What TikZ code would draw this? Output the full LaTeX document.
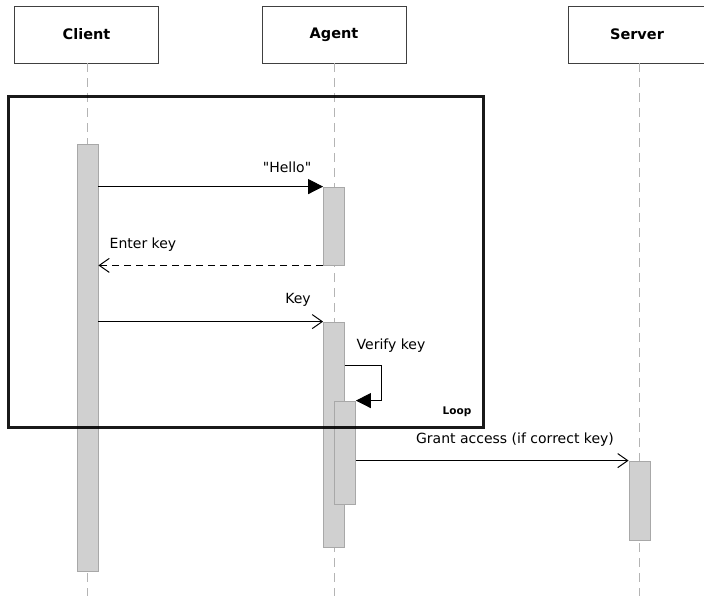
\documentclass[tikz,border=0pt]{standalone}
\usepackage{fontspec}
\setmainfont{DejaVu Sans}
\newfontfamily\plainqfont{DejaVu Sans}[Ligatures=TeXOff]
\usetikzlibrary{arrows.meta}
\definecolor{barfill}{HTML}{D0D0D0}
\definecolor{bardraw}{HTML}{A8A8A8}
\definecolor{lifecol}{HTML}{B4B4B4}
\definecolor{boxdraw}{HTML}{404040}
\tikzset{
  head/.style={draw=boxdraw, line width=0.9pt, fill=white, inner sep=0pt,
    minimum width=144pt, minimum height=57pt, font=\fontsize{14.5}{16}\selectfont\bfseries},
  bar/.style={draw=bardraw, fill=barfill, line width=0.8pt, inner sep=0pt, minimum width=21pt},
  life/.style={draw=lifecol, line width=1pt, dash pattern=on 9pt off 6pt},
  msg/.style={draw=black, line width=1pt},
  lbl/.style={font=\fontsize{14}{16}\selectfont, inner sep=0pt},
  syncarrow/.style={-{Triangle[length=15pt,width=15pt]}},
  openarrow/.style={-{Straight Barb[length=10pt,width=14pt,line width=1pt]}},
}
\begin{document}
\begin{tikzpicture}[x=1pt,y=-1pt]
\useasboundingbox (0,0) rectangle (704,596);
% headers
\node[head] (client) at (86.5,34.5) {Client};
\node[head] (agent) at (334,34.5) {Agent};
\node[head, minimum width=138pt] (server) at (637,34.5) {Server};
% lifelines
\coordinate (cend) at (87,596);
\coordinate (aend) at (334,596);
\coordinate (send) at (639,596);
\draw[life] (client.south -| cend) -- (cend);
\draw[life] (agent.south -| aend) -- (aend);
\draw[life] (server.south -| send) -- (send);
% activation bars
\node[bar, minimum height=427pt] (cb) at (87.5,357.5) {};
\node[bar, minimum height=78pt] (ab1) at (334,226) {};
\node[bar, minimum height=225pt] (ab2) at (334,434.5) {};
\node[bar, minimum height=103pt] (an) at (345,452.5) {};
\node[bar, minimum height=79pt] (sb) at (639.5,500.5) {};
% loop frame
\node[draw=black, draw opacity=0.9, line width=3pt, inner sep=0pt, minimum width=475pt, minimum height=330pt] (loop) at (245.5,262) {};
\node[font=\fontsize{10.5}{12}\selectfont\bfseries, inner sep=0pt] (looplbl) at (457,412) {Loop};
% messages
\draw[msg, syncarrow] (cb.east |- ab1.north west) -- (ab1.north west);
\node[lbl] (l1) at (287,167) {\plainqfont "Hello"};
\draw[msg, openarrow, dash pattern=on 7pt off 5pt] (ab1.south west) -- (cb.east |- ab1.south west);
\node[lbl] (l2) at (143,245) {Enter key};
\draw[msg, openarrow] (cb.east |- ab2.north west) -- (ab2.north west);
\node[lbl] (l3) at (298,300) {Key};
\coordinate (vk) at (381,365);
\draw[msg, syncarrow] (ab2.east |- vk) -- (vk) |- (an.north east);
\node[lbl] (l4) at (391,346) {Verify key};
\draw[msg, openarrow] (an.east |- sb.north west) -- (sb.north west);
\node[lbl] (l5) at (515,440) {Grant access (if correct key)};
\end{tikzpicture}
\end{document}
